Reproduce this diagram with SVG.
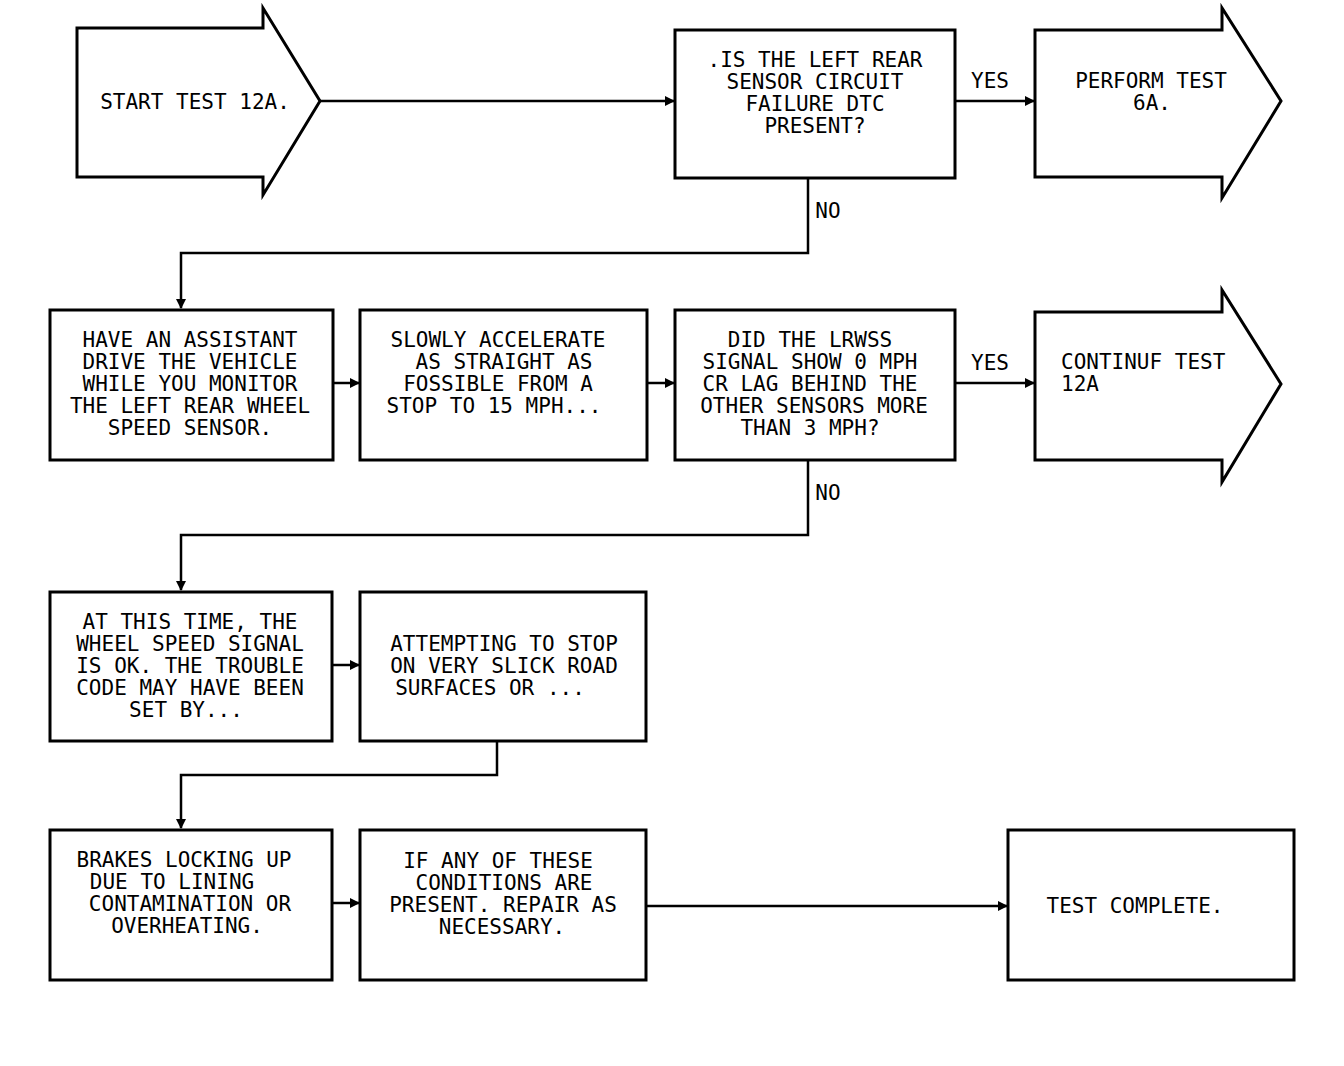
<svg xmlns="http://www.w3.org/2000/svg" width="1344" height="1066" viewBox="0 0 1344 1066">
<style>
.box{fill:#fff;stroke:#000;stroke-width:3}
.t{font-family:"DejaVu Sans Mono","Liberation Mono",monospace;font-size:21px;fill:#000;text-anchor:middle}
.l{text-anchor:start}
.c{fill:none;stroke:#000;stroke-width:2.5}
</style>
<defs>
<marker id="ah" viewBox="0 0 10 10" refX="9" refY="5" markerWidth="4" markerHeight="4" orient="auto" markerUnits="strokeWidth">
<path d="M0,0 L10,5 L0,10 z" fill="#000"/>
</marker>
</defs>
<rect width="1344" height="1066" fill="#fff"/>
<g id="connectors">
<line class="c" x1="320" y1="101" x2="674" y2="101" marker-end="url(#ah)"/>
<line class="c" x1="955" y1="101" x2="1034" y2="101" marker-end="url(#ah)"/>
<polyline class="c" points="808,178 808,253 181,253 181,308" marker-end="url(#ah)"/>
<line class="c" x1="333" y1="383" x2="359" y2="383" marker-end="url(#ah)"/>
<line class="c" x1="647" y1="383" x2="674" y2="383" marker-end="url(#ah)"/>
<line class="c" x1="955" y1="383" x2="1034" y2="383" marker-end="url(#ah)"/>
<polyline class="c" points="808,460 808,535 181,535 181,590" marker-end="url(#ah)"/>
<line class="c" x1="332" y1="665" x2="359" y2="665" marker-end="url(#ah)"/>
<polyline class="c" points="497,741 497,775 181,775 181,828" marker-end="url(#ah)"/>
<line class="c" x1="332" y1="903" x2="359" y2="903" marker-end="url(#ah)"/>
<line class="c" x1="646" y1="906" x2="1007" y2="906" marker-end="url(#ah)"/>
<text class="t" x="990" y="88">YES</text>
<text class="t" x="828" y="218">NO</text>
<text class="t" x="990" y="370">YES</text>
<text class="t" x="828" y="500">NO</text>
</g>
<g id="start">
<path class="box" d="M77,28 L263,28 L263,8 L320,101 L263,195 L263,177 L77,177 Z"/>
<text class="t" x="195" y="109">START TEST 12A.</text>
</g>
<g id="q1">
<rect class="box" x="675" y="30" width="280" height="148"/>
<text class="t" x="815" y="67">.IS THE LEFT REAR</text>
<text class="t" x="815" y="89">SENSOR CIRCUIT</text>
<text class="t" x="815" y="111">FAILURE DTC</text>
<text class="t" x="815" y="133">PRESENT?</text>
</g>
<g id="perform">
<path class="box" d="M1035,30 L1222,30 L1222,8 L1281,101 L1222,198 L1222,177 L1035,177 Z"/>
<text class="t" x="1151" y="88">PERFORM TEST</text>
<text class="t" x="1152" y="110">6A.</text>
</g>
<g id="assistant">
<rect class="box" x="50" y="310" width="283" height="150"/>
<text class="t" x="190" y="347">HAVE AN ASSISTANT</text>
<text class="t" x="190" y="369">DRIVE THE VEHICLE</text>
<text class="t" x="190" y="391">WHILE YOU MONITOR</text>
<text class="t" x="190" y="413">THE LEFT REAR WHEEL</text>
<text class="t" x="190" y="435">SPEED SENSOR.</text>
</g>
<g id="accelerate">
<rect class="box" x="360" y="310" width="287" height="150"/>
<text class="t" x="498" y="347">SLOWLY ACCELERATE</text>
<text class="t" x="504" y="369">AS STRAIGHT AS</text>
<text class="t" x="498" y="391">FOSSIBLE FROM A</text>
<text class="t" x="494" y="413">STOP TO 15 MPH...</text>
</g>
<g id="q2">
<rect class="box" x="675" y="310" width="280" height="150"/>
<text class="t" x="810" y="347">DID THE LRWSS</text>
<text class="t" x="810" y="369">SIGNAL SHOW 0 MPH</text>
<text class="t" x="810" y="391">CR LAG BEHIND THE</text>
<text class="t" x="814" y="413">OTHER SENSORS MORE</text>
<text class="t" x="810" y="435">THAN 3 MPH?</text>
</g>
<g id="continue">
<path class="box" d="M1035,312 L1222,312 L1222,290 L1281,384 L1222,482 L1222,460 L1035,460 Z"/>
<text class="t l" x="1061" y="369">CONTINUF TEST</text>
<text class="t l" x="1061" y="391">12A</text>
</g>
<g id="attime">
<rect class="box" x="50" y="592" width="282" height="149"/>
<text class="t" x="190" y="629">AT THIS TIME, THE</text>
<text class="t" x="190" y="651">WHEEL SPEED SIGNAL</text>
<text class="t" x="190" y="673">IS OK. THE TROUBLE</text>
<text class="t" x="190" y="695">CODE MAY HAVE BEEN</text>
<text class="t" x="186" y="717">SET BY...</text>
</g>
<g id="attempting">
<rect class="box" x="360" y="592" width="286" height="149"/>
<text class="t" x="504" y="651">ATTEMPTING TO STOP</text>
<text class="t" x="504" y="673">ON VERY SLICK ROAD</text>
<text class="t" x="490" y="695">SURFACES OR ...</text>
</g>
<g id="brakes">
<rect class="box" x="50" y="830" width="282" height="150"/>
<text class="t" x="184" y="867">BRAKES LOCKING UP</text>
<text class="t" x="172" y="889">DUE TO LINING</text>
<text class="t" x="190" y="911">CONTAMINATION OR</text>
<text class="t" x="187" y="933">OVERHEATING.</text>
</g>
<g id="repair">
<rect class="box" x="360" y="830" width="286" height="150"/>
<text class="t" x="498" y="868">IF ANY OF THESE</text>
<text class="t" x="504" y="890">CONDITIONS ARE</text>
<text class="t" x="503" y="912">PRESENT. REPAIR AS</text>
<text class="t" x="502" y="934">NECESSARY.</text>
</g>
<g id="complete">
<rect class="box" x="1008" y="830" width="286" height="150"/>
<text class="t" x="1135" y="913">TEST COMPLETE.</text>
</g>
</svg>
